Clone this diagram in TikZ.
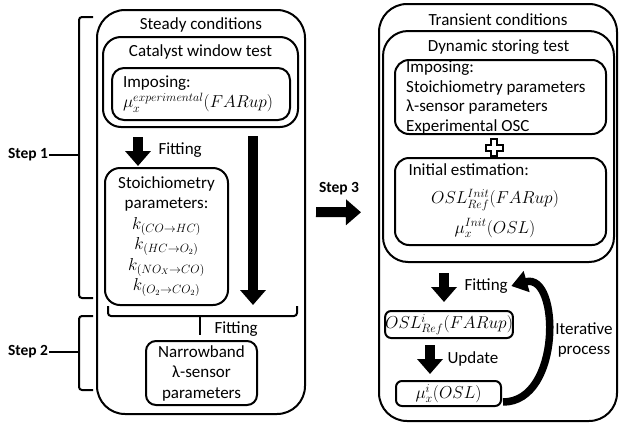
\documentclass[tikz,border=0pt]{standalone}
\usepackage{fontspec}
\setmainfont{Carlito}
\usetikzlibrary{arrows.meta}
\begin{document}
\begin{tikzpicture}[x=1pt,y=-1pt,
    every node/.style={font=\fontsize{17}{20.5}\selectfont},
    box/.style={draw=black,line width=2pt,rounded corners=#1,inner sep=0pt},
    box/.default=12pt,
    steplbl/.style={font=\fontsize{15.5}{18}\selectfont\bfseries,inner sep=1pt},
    blk/.style={line width=10pt,-{Triangle[length=15pt,width=25pt]}},
    brc/.style={line width=2pt,rounded corners=3pt},
    curv/.style={line width=7.5pt,-{Triangle[length=16pt,width=21pt]}}]
        \useasboundingbox (0,0) rectangle (620,426);

        \node[box=28pt,minimum width=208pt,minimum height=404pt] at (201, 212) (steady) {};
        \node at (201, 25) (steadyt) {Steady conditions};
        \node[box=18pt,minimum width=195pt,minimum height=90pt] at (200.5, 82) (window) {};
        \node at (200.5, 52) (windowt) {Catalyst window test};
        \node[box=12pt,minimum width=178pt,minimum height=52pt,align=left,text width=156pt] at (201, 94) (impose) {Imposing:\\$\mu_x^{experimental}(FARup)$};
        \node[box=15pt,minimum width=123pt,minimum height=137pt,align=center] at (166.5, 236.5) (stoich) {Stoichiometry\\parameters:\\$k_{(CO\rightarrow HC)}$\\$k_{(HC\rightarrow O_2)}$\\$k_{(NO_X\rightarrow CO)}$\\$k_{(O_2\rightarrow CO_2)}$};
        \node[box=10pt,minimum width=111pt,minimum height=64pt,align=center] at (201.5, 373) (nb) {Narrowband\\λ-sensor\\parameters};

        \coordinate (f1a) at (138, 137);
        \coordinate (f1b) at (138, 166);
        \draw[blk] (f1a) -- (f1b);
        \node[anchor=west] at (155, 150) (fit1) {Fitting};
        \coordinate (bga) at (253, 136);
        \coordinate (bgb) at (253, 305);
        \draw[blk] (bga) -- (bgb);

        \coordinate (brl) at (108, 306);
        \coordinate (brr) at (297, 306);
        \coordinate (brm) at (200, 316);
        \draw[brc] (brl) |- (brm) -| (brr);
        \draw[brc,shorten >=5pt] (brm) -- (brm |- nb.north);
        \node[anchor=west] at (211, 329) (fit2) {Fitting};

        \node[steplbl] at (28, 155) (s1) {Step 1};
        \coordinate (b1t) at (93, 17);
        \coordinate (b1m) at (79, 155);
        \coordinate (b1b) at (93, 298);
        \draw[brc] (b1t) -| (b1m) |- (b1b);
        \draw[brc] (s1) -- (b1m);

        \node[steplbl] at (28, 352) (s2) {Step 2};
        \coordinate (b2t) at (93, 316);
        \coordinate (b2m) at (79, 352);
        \coordinate (b2b) at (93, 390);
        \draw[brc] (b2t) -| (b2m) |- (b2b);
        \draw[brc] (s2) -- (b2m);

        \node[box=28pt,minimum width=238pt,minimum height=417pt] at (498, 212.5) (trans) {};
        \node at (498, 20) (transt) {Transient conditions};
        \node[box=25pt,minimum width=231pt,minimum height=231pt] at (498.5, 146.5) (dyn) {};
        \node at (498.5, 47) (dynt) {Dynamic storing test};
        \node[box=14pt,minimum width=211pt,minimum height=74pt] at (500.5, 97) (imp2) {};
        \node[anchor=north west,inner sep=0pt,align=left,font=\fontsize{17}{19.5}\selectfont] at (406, 61) (imp2t) {Imposing:\\Stoichiometry parameters\\λ-sensor parameters\\Experimental OSC};
        \draw[line width=2pt] (494, 147.5) ++(-3,-8.5) -- ++(6,0) -- ++(0,5.5) -- ++(5.5,0) -- ++(0,6) -- ++(-5.5,0) -- ++(0,5.5) -- ++(-6,0) -- ++(0,-5.5) -- ++(-5.5,0) -- ++(0,-6) -- ++(5.5,0) -- cycle;
        \node[box=14pt,minimum width=211pt,minimum height=87pt] at (500.5, 201.5) (init) {};
        \node[anchor=west] at (405, 170) (initt) {Initial estimation:};
        \node at (495, 200) (oslinit) {$OSL^{Init}_{Ref}(FARup)$};
        \node at (495, 228) (muinit) {$\mu_x^{Init}(OSL)$};

        \node[steplbl] at (339, 189) (s3) {Step 3};
        \draw[blk,shorten <=10pt,shorten >=17pt] (steady) -- (trans);

        \coordinate (f3a) at (444, 273);
        \coordinate (f3b) at (444, 302);
        \draw[blk] (f3a) -- (f3b);
        \node[anchor=west] at (461, 286) (fit3) {Fitting};
        \node[box=6pt,minimum width=126pt,minimum height=27pt] at (449, 324.5) (osli) {$OSL^{i}_{Ref}(FARup)$};
        \coordinate (f4a) at (430, 345);
        \coordinate (f4b) at (430, 374);
        \draw[blk] (f4a) -- (f4b);
        \node[anchor=west] at (444, 359) (upd) {Update};
        \node[box=6pt,minimum width=105pt,minimum height=25pt] at (448.5, 393.5) (mui) {$\mu_x^{i}(OSL)$};
        \coordinate (cva) at (503, 402);
        \draw[curv] (cva) .. controls (562, 402) and (560, 272) .. (fit3.east);
        \node[align=center] at (584, 340) (iter) {Iterative\\process};
    \end{tikzpicture}
\end{document}
